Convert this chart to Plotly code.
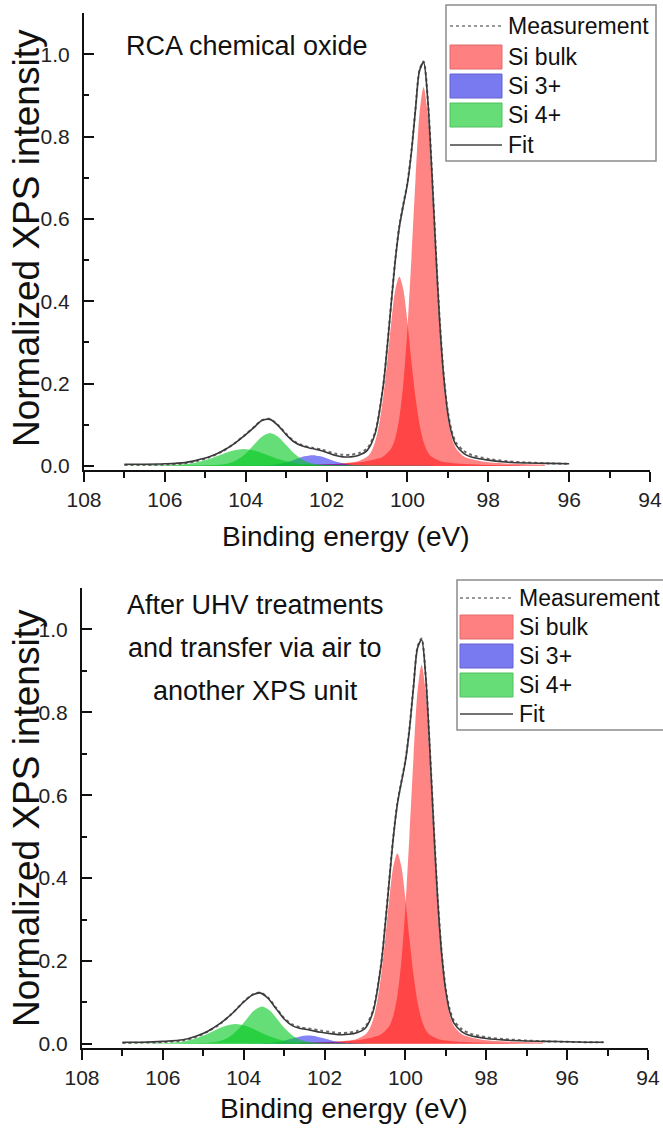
import plotly.graph_objects as go

W, H = 663, 1129
FONT = "Liberation Sans, Arial, sans-serif"

# ---------------- data ----------------
x_tick_vals = [108, 106, 104, 102, 100, 98, 96, 94]
x_tick_text = ["108", "106", "104", "102", "100", "98", "96", "94"]
x_minor_vals = [107, 105, 103, 101, 99, 97, 95]
y_tick_vals = [0.0, 0.2, 0.4, 0.6, 0.8, 1.0]
y_tick_text = ["0.0", "0.2", "0.4", "0.6", "0.8", "1.0"]
y_minor_vals = [0.1, 0.3, 0.5, 0.7, 0.9, 1.1]

legend_names = ["Measurement", "Si bulk", "Si 3+", "Si 4+", "Fit"]
caption_top = ["RCA chemical oxide"]
caption_bot = ["After UHV treatments", "and transfer via air to", "another XPS unit"]

# ---- top panel: RCA chemical oxide ----
energy_top = [107.0, 106.5, 106.0, 105.5, 105.2, 104.9, 104.6, 104.3, 104.0, 103.8,
              103.6, 103.4, 103.2, 103.0, 102.8, 102.6, 102.35, 102.1, 101.8, 101.6,
              101.4, 101.2, 101.0, 100.8, 100.6, 100.5, 100.4, 100.3, 100.2, 100.1,
              100.0, 99.9, 99.8, 99.7, 99.6, 99.5, 99.4, 99.3, 99.2, 99.1,
              99.0, 98.9, 98.8, 98.6, 98.4, 98.0, 97.5, 97.0, 96.5, 96.0]
fit_top = [0.004, 0.004, 0.005, 0.008, 0.014, 0.022, 0.035, 0.053, 0.076, 0.093,
           0.110, 0.113, 0.098, 0.076, 0.058, 0.048, 0.042, 0.036, 0.026, 0.022,
           0.022, 0.026, 0.037, 0.078, 0.193, 0.288, 0.395, 0.499, 0.580, 0.634,
           0.685, 0.763, 0.866, 0.960, 0.980, 0.893, 0.721, 0.525, 0.347, 0.214,
           0.127, 0.077, 0.051, 0.030, 0.021, 0.014, 0.009, 0.007, 0.006, 0.005]
meas_top = [0.002, 0.002, 0.003, 0.006, 0.012, 0.021, 0.034, 0.053, 0.077, 0.094,
            0.111, 0.114, 0.099, 0.078, 0.060, 0.050, 0.044, 0.039, 0.030, 0.027,
            0.027, 0.031, 0.042, 0.082, 0.196, 0.291, 0.398, 0.502, 0.583, 0.637,
            0.688, 0.766, 0.868, 0.962, 0.982, 0.896, 0.725, 0.530, 0.352, 0.219,
            0.132, 0.083, 0.057, 0.036, 0.026, 0.017, 0.011, 0.008, 0.006, 0.005]

bulk_a_x_top = [96.6, 97.6, 98.1, 98.4, 98.6, 98.8, 98.9, 99.0, 99.1, 99.2, 99.3, 99.4, 99.5, 99.6,
                99.7, 99.8, 99.9, 100.0, 100.1, 100.2, 100.3, 100.4, 100.6, 100.8, 101.1, 101.6, 102.6]
bulk_a_y_top = [0.003, 0.006, 0.010, 0.016, 0.023, 0.043, 0.068, 0.117, 0.202, 0.333, 0.507, 0.697, 0.857, 0.920,
                0.857, 0.697, 0.507, 0.333, 0.202, 0.117, 0.068, 0.043, 0.023, 0.016, 0.010, 0.006, 0.003]
bulk_b_x_top = [97.2, 98.2, 98.7, 99.0, 99.2, 99.4, 99.5, 99.6, 99.7, 99.8, 99.9, 100.0, 100.1, 100.2,
                100.3, 100.4, 100.5, 100.6, 100.7, 100.8, 100.9, 101.0, 101.2, 101.4, 101.7, 102.2, 103.2]
bulk_b_y_top = [0.001, 0.003, 0.005, 0.008, 0.012, 0.022, 0.034, 0.058, 0.101, 0.167, 0.253, 0.349, 0.428, 0.460,
                0.428, 0.349, 0.253, 0.167, 0.101, 0.058, 0.034, 0.022, 0.012, 0.008, 0.005, 0.003, 0.001]
si3_x_top = [99.35, 100.35, 100.85, 101.15, 101.35, 101.55, 101.75, 101.95, 102.15, 102.35,
             102.55, 102.75, 102.95, 103.15, 103.35, 103.55, 103.85, 104.35, 105.35]
si3_y_top = [0.0001, 0.0003, 0.0006, 0.0011, 0.0023, 0.0050, 0.0098, 0.0165, 0.0231, 0.0260,
             0.0231, 0.0165, 0.0098, 0.0050, 0.0023, 0.0011, 0.0006, 0.0003, 0.0001]
si4_a_x_top = [100.4, 101.4, 101.9, 102.2, 102.4, 102.6, 102.8, 103.0, 103.2, 103.4,
               103.6, 103.8, 104.0, 104.2, 104.4, 104.6, 104.9, 105.4, 106.4]
si4_a_y_top = [0.0004, 0.0009, 0.0018, 0.0035, 0.0072, 0.0154, 0.0302, 0.0508, 0.0710, 0.0800,
               0.0710, 0.0508, 0.0302, 0.0154, 0.0072, 0.0035, 0.0018, 0.0009, 0.0004]
si4_b_x_top = [99.55, 101.05, 101.8, 102.25, 102.55, 102.85, 103.15, 103.45, 103.75, 104.05,
               104.35, 104.65, 104.95, 105.25, 105.55, 105.85, 106.3, 107.0]
si4_b_y_top = [0.0002, 0.0005, 0.0009, 0.0018, 0.0037, 0.0079, 0.0155, 0.0260, 0.0364, 0.0410,
               0.0364, 0.0260, 0.0155, 0.0079, 0.0037, 0.0018, 0.0009, 0.0005]

# ---- bottom panel: after UHV treatments ----
energy_bot = [107.0, 106.5, 106.0, 105.5, 105.2, 104.9, 104.6, 104.3, 104.0, 103.8,
              103.6, 103.4, 103.2, 103.0, 102.8, 102.6, 102.4, 102.1, 101.8, 101.6,
              101.4, 101.2, 101.0, 100.8, 100.6, 100.5, 100.4, 100.3, 100.2, 100.1,
              100.0, 99.9, 99.8, 99.7, 99.6, 99.5, 99.4, 99.3, 99.2, 99.1,
              99.0, 98.9, 98.8, 98.6, 98.4, 98.0, 97.5, 97.0, 96.5, 96.0, 95.5, 95.1]
fit_bot = [0.004, 0.004, 0.006, 0.010, 0.018, 0.030, 0.048, 0.072, 0.101, 0.117,
           0.123, 0.110, 0.085, 0.060, 0.044, 0.037, 0.034, 0.028, 0.024, 0.022,
           0.023, 0.027, 0.037, 0.078, 0.192, 0.287, 0.393, 0.497, 0.578, 0.631,
           0.682, 0.759, 0.861, 0.955, 0.975, 0.888, 0.717, 0.522, 0.345, 0.213,
           0.126, 0.076, 0.050, 0.029, 0.020, 0.013, 0.009, 0.007, 0.006, 0.005, 0.004, 0.004]
meas_bot = [0.002, 0.003, 0.004, 0.008, 0.016, 0.029, 0.047, 0.072, 0.102, 0.118,
            0.124, 0.112, 0.087, 0.062, 0.047, 0.040, 0.037, 0.032, 0.028, 0.026,
            0.027, 0.031, 0.041, 0.082, 0.195, 0.290, 0.396, 0.500, 0.581, 0.634,
            0.685, 0.762, 0.864, 0.958, 0.978, 0.891, 0.721, 0.527, 0.350, 0.218,
            0.131, 0.082, 0.056, 0.035, 0.025, 0.016, 0.011, 0.008, 0.006, 0.005, 0.004, 0.004]

bulk_a_x_bot = bulk_a_x_top
bulk_a_y_bot = [0.003, 0.006, 0.010, 0.016, 0.023, 0.043, 0.068, 0.116, 0.201, 0.331, 0.504, 0.693, 0.852, 0.915,
                0.852, 0.693, 0.504, 0.331, 0.201, 0.116, 0.068, 0.043, 0.023, 0.016, 0.010, 0.006, 0.003]
bulk_b_x_bot = bulk_b_x_top
bulk_b_y_bot = bulk_b_y_top
si3_x_bot = [99.4, 100.4, 100.9, 101.2, 101.4, 101.6, 101.8, 102.0, 102.2, 102.4,
             102.6, 102.8, 103.0, 103.2, 103.4, 103.6, 103.9, 104.4, 105.4]
si3_y_bot = [0.0001, 0.0002, 0.0004, 0.0009, 0.0018, 0.0038, 0.0075, 0.0127, 0.0178, 0.0200,
             0.0178, 0.0127, 0.0075, 0.0038, 0.0018, 0.0009, 0.0004, 0.0002, 0.0001]
si4_a_x_bot = [100.55, 101.55, 102.05, 102.35, 102.55, 102.75, 102.95, 103.15, 103.35, 103.55,
               103.75, 103.95, 104.15, 104.35, 104.55, 104.75, 105.05, 105.55, 106.55]
si4_a_y_bot = [0.0005, 0.0011, 0.0020, 0.0040, 0.0081, 0.0173, 0.0339, 0.0572, 0.0799, 0.0900,
               0.0799, 0.0572, 0.0339, 0.0173, 0.0081, 0.0040, 0.0020, 0.0011, 0.0005]
si4_b_x_bot = [100.0, 101.4, 102.1, 102.52, 102.8, 103.08, 103.36, 103.64, 103.92, 104.2,
               104.48, 104.76, 105.04, 105.32, 105.6, 105.88, 106.3, 107.0]
si4_b_y_bot = [0.0003, 0.0006, 0.0011, 0.0021, 0.0043, 0.0092, 0.0181, 0.0305, 0.0426, 0.0480,
               0.0426, 0.0305, 0.0181, 0.0092, 0.0043, 0.0021, 0.0011, 0.0006]

# ---------------- styling ----------------
RED = "rgba(255,0,0,0.48)"
BLUE = "rgba(20,20,240,0.52)"
GREEN = "rgba(0,200,30,0.6)"
FIT_COLOR = "#3a3a3a"
MEAS_COLOR = "#6a6a6a"


def px(x):
    return x / W


def py(y):
    return 1 - y / H


fig = go.Figure()


def add_panel(xa, ya, comps, ex, fit, meas):
    for cx, cy, col in comps:
        fig.add_trace(go.Scatter(x=cx, y=cy, xaxis=xa, yaxis=ya, mode="lines",
                                 line=dict(width=0, shape="spline", smoothing=0.8),
                                 fill="tozeroy", fillcolor=col, hoverinfo="skip",
                                 showlegend=False))
    fig.add_trace(go.Scatter(x=ex, y=meas, xaxis=xa, yaxis=ya, mode="lines",
                             line=dict(color=MEAS_COLOR, width=2, dash="dot",
                                       shape="spline", smoothing=0.8),
                             showlegend=False))
    fig.add_trace(go.Scatter(x=ex, y=fit, xaxis=xa, yaxis=ya, mode="lines",
                             line=dict(color=FIT_COLOR, width=1.6, shape="spline", smoothing=0.8),
                             showlegend=False))


add_panel("x", "y",
          [(bulk_a_x_top, bulk_a_y_top, RED), (bulk_b_x_top, bulk_b_y_top, RED),
           (si3_x_top, si3_y_top, BLUE),
           (si4_a_x_top, si4_a_y_top, GREEN), (si4_b_x_top, si4_b_y_top, GREEN)],
          energy_top, fit_top, meas_top)
add_panel("x2", "y2",
          [(bulk_a_x_bot, bulk_a_y_bot, RED), (bulk_b_x_bot, bulk_b_y_bot, RED),
           (si3_x_bot, si3_y_bot, BLUE),
           (si4_a_x_bot, si4_a_y_bot, GREEN), (si4_b_x_bot, si4_b_y_bot, GREEN)],
          energy_bot, fit_bot, meas_bot)

tickfont = dict(family=FONT, size=21, color="#222")


def xaxis_cfg(domain, anchor):
    return dict(domain=domain, anchor=anchor, range=[108, 94], automargin=False,
                tickmode="array", tickvals=x_tick_vals, ticktext=x_tick_text,
                ticks="outside", ticklen=10, tickwidth=1.6, tickcolor="#111",
                ticklabeloverflow="allow",
                showline=True, linecolor="#111", linewidth=2,
                showgrid=False, zeroline=False, tickfont=tickfont,
                minor=dict(tickmode="array", tickvals=x_minor_vals, ticks="outside",
                           ticklen=6, tickwidth=1.6, tickcolor="#111", showgrid=False))


def yaxis_cfg(domain, anchor):
    return dict(domain=domain, anchor=anchor, range=[-0.01, 1.1], automargin=False,
                tickmode="array", tickvals=y_tick_vals, ticktext=y_tick_text,
                ticks="inside", ticklen=10, tickwidth=1.6, tickcolor="#111",
                ticklabeloverflow="allow",
                showline=True, linecolor="#111", linewidth=2,
                showgrid=False, zeroline=False, tickfont=tickfont,
                ticklabelstandoff=8,
                minor=dict(tickmode="array", tickvals=y_minor_vals, ticks="inside",
                           ticklen=5, tickwidth=1.6, tickcolor="#111", showgrid=False))


fig.update_layout(
    width=W, height=H, margin=dict(l=0, r=0, t=0, b=0, autoexpand=False),
    paper_bgcolor="white", plot_bgcolor="white", showlegend=False,
    xaxis=xaxis_cfg([px(84), px(650)], "y"),
    yaxis=yaxis_cfg([py(470), py(13)], "x"),
    xaxis2=xaxis_cfg([px(82), px(648)], "y2"),
    yaxis2=yaxis_cfg([py(1048), py(588)], "x2"),
)

annots = []
shapes = []
title_font = dict(family=FONT, size=28, color="#111")
ytitle_font = dict(family=FONT, size=37, color="#111")

# axis titles
annots.append(dict(text="Binding energy (eV)", x=px(345), y=py(537), xref="paper", yref="paper",
                   showarrow=False, font=title_font, xanchor="center", yanchor="middle"))
annots.append(dict(text="Binding energy (eV)", x=px(343), y=py(1108), xref="paper", yref="paper",
                   showarrow=False, font=title_font, xanchor="center", yanchor="middle"))
annots.append(dict(text="Normalized XPS intensity", x=px(26), y=py(238), xref="paper", yref="paper",
                   showarrow=False, font=ytitle_font, textangle=-90, xanchor="center", yanchor="middle"))
annots.append(dict(text="Normalized XPS intensity", x=px(26), y=py(818), xref="paper", yref="paper",
                   showarrow=False, font=ytitle_font, textangle=-90, xanchor="center", yanchor="middle"))

# panel captions
cap_font = dict(family=FONT, size=27, color="#111")
annots.append(dict(text=caption_top[0], x=px(124), y=py(46), xref="paper", yref="paper",
                   showarrow=False, font=cap_font, xanchor="left", yanchor="middle"))
for line_text, yc in zip(caption_bot, [605, 648, 691]):
    annots.append(dict(text=line_text, x=px(255), y=py(yc), xref="paper", yref="paper",
                       showarrow=False, font=cap_font, xanchor="center", yanchor="middle"))

# custom legends
leg_font = dict(family=FONT, size=23, color="#111")
swatch = {"Si bulk": ("#ff8080", "#e06a6a"), "Si 3+": ("#7a7af0", "#6262d0"),
          "Si 4+": ("#66dd77", "#50c060")}


def add_legend(bx0, by0, bx1, by1, sx0, sx1, tx, rows):
    shapes.append(dict(type="rect", xref="paper", yref="paper",
                       x0=px(bx0), x1=px(bx1), y0=py(by1), y1=py(by0),
                       line=dict(color="#8c8c8c", width=1.5), fillcolor="rgba(255,255,255,0)"))
    for name, yc in zip(legend_names, rows):
        if name == "Measurement":
            shapes.append(dict(type="line", xref="paper", yref="paper", x0=px(sx0), x1=px(sx1),
                               y0=py(yc), y1=py(yc), line=dict(color="#777", width=1.5, dash="dot")))
        elif name == "Fit":
            shapes.append(dict(type="line", xref="paper", yref="paper", x0=px(sx0), x1=px(sx1),
                               y0=py(yc), y1=py(yc), line=dict(color="#444", width=1.5)))
        else:
            fc, lc = swatch[name]
            shapes.append(dict(type="rect", xref="paper", yref="paper", x0=px(sx0), x1=px(sx1),
                               y0=py(yc + 12), y1=py(yc - 12), fillcolor=fc,
                               line=dict(color=lc, width=1)))
        annots.append(dict(text=name, x=px(tx), y=py(yc), xref="paper", yref="paper",
                           showarrow=False, font=leg_font, xanchor="left", yanchor="middle"))


add_legend(446, 5, 656, 161, 450, 502, 506, [26, 57, 86, 115, 145])
add_legend(457, 580, 690, 730, 460, 513, 517, [598, 627, 656, 685, 714])

fig.update_layout(annotations=annots, shapes=shapes)
fig.write_html("out.html")
